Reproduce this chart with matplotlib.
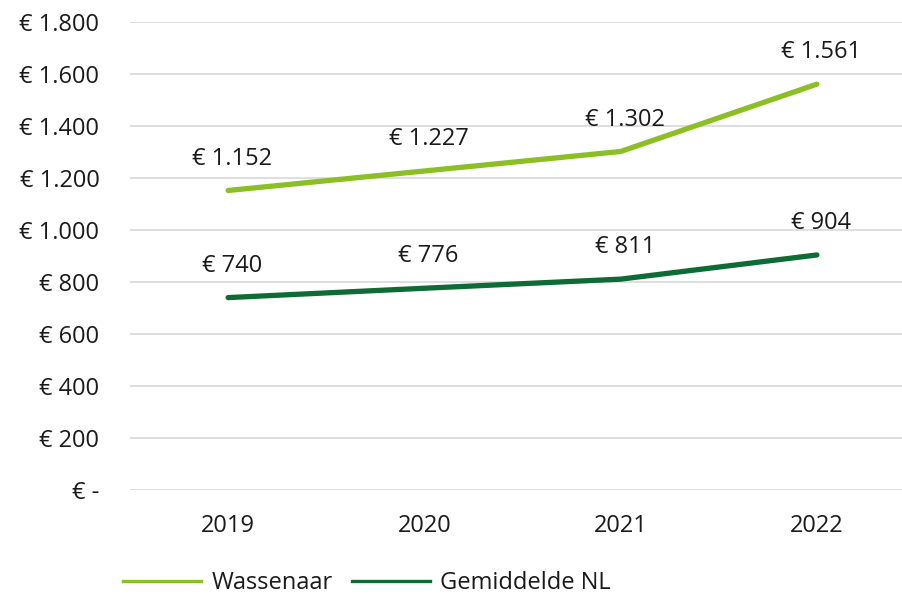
import matplotlib
matplotlib.use("Agg")
import matplotlib.pyplot as plt
from matplotlib.lines import Line2D

plt.rcParams['font.family'] = ['Open Sans', 'DejaVu Sans']

years = ["2019", "2020", "2021", "2022"]
wassenaar = [1152, 1227, 1302, 1561]
gemiddelde_nl = [740, 776, 811, 904]
wassenaar_labels = ["€ 1.152", "€ 1.227", "€ 1.302", "€ 1.561"]
nl_labels = ["€ 740", "€ 776", "€ 811", "€ 904"]
y_ticks = [0, 200, 400, 600, 800, 1000, 1200, 1400, 1600, 1800]
y_tick_labels = ["€ -", "€ 200", "€ 400", "€ 600", "€ 800", "€ 1.000",
                 "€ 1.200", "€ 1.400", "€ 1.600", "€ 1.800"]

light = "#8CBF26"
dark = "#0E6B35"
fs = 17

fig = plt.figure(figsize=(9.02, 5.95), dpi=100)
ax = fig.add_axes([130/902, (595-490)/595, (915-130)/902, (490-22)/595])

x = list(range(len(years)))
ax.plot(x, wassenaar, color=light, lw=3.8, solid_capstyle='round')
ax.plot(x, gemiddelde_nl, color=dark, lw=3.8, solid_capstyle='round')

for xi, v, t in zip(x, wassenaar, wassenaar_labels):
    ax.annotate(t, (xi, v), xytext=(3, 23), textcoords='offset points',
                ha='center', va='center', fontsize=fs, color='#1a1a1a')
for xi, v, t in zip(x, gemiddelde_nl, nl_labels):
    ax.annotate(t, (xi, v), xytext=(3, 23), textcoords='offset points',
                ha='center', va='center', fontsize=fs, color='#1a1a1a')

ax.set_xlim(-0.5, 3.5)
ax.set_ylim(0, 1800)
ax.set_yticks(y_ticks)
ax.set_yticklabels(y_tick_labels)
ax.set_xticks(x)
ax.set_xticklabels(years)
ax.tick_params(axis='y', length=0, pad=22, labelsize=fs, colors='#1a1a1a')
ax.tick_params(axis='x', length=0, pad=17, labelsize=fs, colors='#1a1a1a')
ax.grid(axis='y', color='#D9D9D9', lw=1.2)
ax.set_axisbelow(True)
for s in ax.spines.values():
    s.set_visible(False)

handles = [Line2D([], [], color=light, lw=2.4), Line2D([], [], color=dark, lw=2.4)]
fig.legend(handles=handles, labels=["Wassenaar", "Gemiddelde NL"],
           loc='center', bbox_to_anchor=(367/902, 1-583/595),
           ncol=2, frameon=False, fontsize=fs, handlelength=3.3,
           handletextpad=0.45, columnspacing=0.8, borderpad=0,
           labelcolor='#1a1a1a')

fig.savefig("out.png", dpi=100)
